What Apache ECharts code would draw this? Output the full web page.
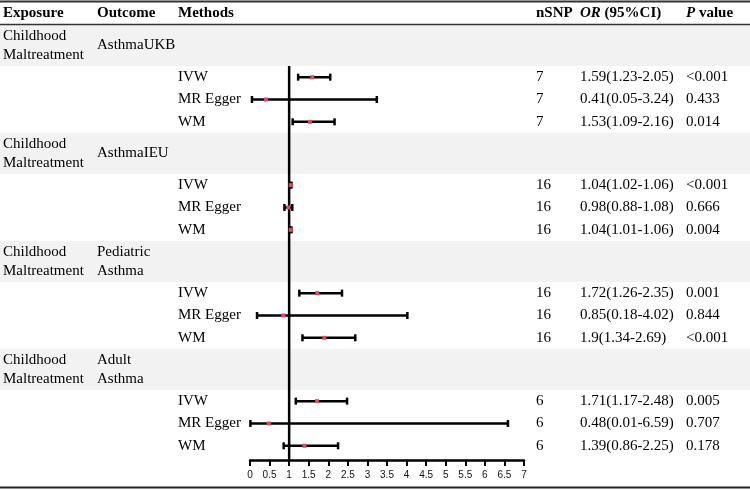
<!DOCTYPE html>
<html><head><meta charset="utf-8">
<script src="https://cdn.jsdelivr.net/npm/echarts@6/dist/echarts.min.js"></script>
<style>html,body{margin:0;padding:0;background:#fff}#c{width:750px;height:490px}</style>
</head><body><div id="c"></div>
<script>
// ---- data ----
const exposures = ['Childhood\nMaltreatment','Childhood\nMaltreatment','Childhood\nMaltreatment','Childhood\nMaltreatment'];
const outcomes = ['AsthmaUKB','AsthmaIEU','Pediatric\nAsthma','Adult\nAsthma'];
const methods = ['IVW','MR Egger','WM'];
const nsnp = [[7,7,7],[16,16,16],[16,16,16],[6,6,6]];
const orVal = [[1.59,0.41,1.53],[1.04,0.98,1.04],[1.72,0.85,1.9],[1.71,0.48,1.39]];
const ciLow = [[1.23,0.05,1.09],[1.02,0.88,1.01],[1.26,0.18,1.34],[1.17,0.01,0.86]];
const ciHigh = [[2.05,3.24,2.16],[1.06,1.08,1.06],[2.35,4.02,2.69],[2.48,6.59,2.25]];
const orText = [
  ['1.59(1.23-2.05)','0.41(0.05-3.24)','1.53(1.09-2.16)'],
  ['1.04(1.02-1.06)','0.98(0.88-1.08)','1.04(1.01-1.06)'],
  ['1.72(1.26-2.35)','0.85(0.18-4.02)','1.9(1.34-2.69)'],
  ['1.71(1.17-2.48)','0.48(0.01-6.59)','1.39(0.86-2.25)']];
const pText = [['<0.001','0.433','0.014'],['<0.001','0.666','0.004'],['0.001','0.844','<0.001'],['0.005','0.707','0.178']];
const headers = ['Exposure','Outcome','Methods','nSNP','{i|OR} (95%CI)','{i|P} value'];
const xTicks = {min:0, max:7, interval:0.5};

// ---- layout ----
const BAND = 41, ROW = 22.33, GROUP = BAND + 3*ROW;
const COLX = [3, 97, 178, 536, 580, 686];
const SERIF = 'Liberation Serif, Times New Roman, serif';
const FS = 15;
function rowY(g, r){ return g*GROUP + BAND + ROW*(r+0.5); }

const bandData = outcomes.map((o,g)=>[0, g*GROUP, g*GROUP+BAND, g]);
const rowData = [], ciData = [];
outcomes.forEach((o,g)=>{
  methods.forEach((m,r)=>{
    rowData.push([0, rowY(g,r), g, r]);
    ciData.push([ciLow[g][r], ciHigh[g][r], orVal[g][r], rowY(g,r)]);
  });
});

const chart = echarts.init(document.getElementById('c'), null, {renderer:'canvas'});
const txt = (x,y,text,extra)=>Object.assign({type:'text', x, y, style:Object.assign({text, fontFamily:SERIF, fontSize:FS, fill:'#000', align:'left', verticalAlign:'middle', lineHeight:19}, extra||{})});

chart.setOption({
  animation:false,
  backgroundColor:'#fff',
  grid:{left:250, width:274, top:25, height:435, containLabel:false, outerBoundsMode:'none'},
  xAxis:{type:'value', min:xTicks.min, max:xTicks.max, interval:xTicks.interval,
    axisLine:{show:true, onZero:false, lineStyle:{color:'#000', width:2.5}},
    axisTick:{show:true, inside:false, length:6, lineStyle:{color:'#000', width:2}},
    axisLabel:{color:'#111', fontSize:10, fontFamily:'Liberation Sans, Arial, sans-serif', margin:10},
    splitLine:{show:false}},
  yAxis:{type:'value', min:0, max:435, inverse:true, show:false},
  graphic:[
    {type:'line', shape:{x1:0,y1:1.5,x2:750,y2:1.5}, style:{stroke:'#333', lineWidth:2}, z:10},
    {type:'line', shape:{x1:0,y1:24.5,x2:750,y2:24.5}, style:{stroke:'#333', lineWidth:1.5}, z:10},
    {type:'line', shape:{x1:0,y1:487.5,x2:750,y2:487.5}, style:{stroke:'#222', lineWidth:2}, z:10},
    ...headers.map((h,i)=>({type:'text', x:COLX[i], y:13, z:10, style:{text:h, fontFamily:SERIF, fontSize:FS, fontWeight:'bold', fill:'#000', align:'left', verticalAlign:'middle',
      rich:{i:{fontFamily:SERIF, fontSize:FS, fontWeight:'bold', fontStyle:'italic', fill:'#000'}}}}))
  ],
  series:[
    {type:'custom', clip:false, z:1, data:bandData, encode:{x:0,y:[1,2]},
     renderItem(p, api){
       const a = api.coord([0, api.value(1)]), b = api.coord([0, api.value(2)]);
       const g = api.value(3);
       return {type:'group', children:[
         {type:'rect', shape:{x:0, y:a[1], width:750, height:b[1]-a[1]}, style:{fill:'#f2f2f2'}},
         txt(COLX[0], (a[1]+b[1])/2, exposures[g]),
         txt(COLX[1], (a[1]+b[1])/2, outcomes[g])
       ]};
     }},
    {type:'custom', clip:false, z:2, data:[[1, BAND, 435]], encode:{x:0,y:[1,2]},
     renderItem(p, api){
       const a = api.coord([api.value(0), api.value(1)]), b = api.coord([api.value(0), api.value(2)]);
       return {type:'line', shape:{x1:a[0],y1:a[1],x2:b[0],y2:b[1]}, style:{stroke:'#000', lineWidth:2.5}};
     }},
    {type:'custom', clip:false, z:3, data:ciData, encode:{x:[0,1,2], y:3},
     renderItem(p, api){
       const lo = api.coord([api.value(0), api.value(3)]);
       const hi = api.coord([api.value(1), api.value(3)]);
       const pt = api.coord([api.value(2), api.value(3)]);
       const y = lo[1], st = {stroke:'#000', lineWidth:2.5};
       return {type:'group', children:[
         {type:'line', shape:{x1:lo[0],y1:y,x2:hi[0],y2:y}, style:st},
         {type:'line', shape:{x1:lo[0],y1:y-3.5,x2:lo[0],y2:y+3.5}, style:st},
         {type:'line', shape:{x1:hi[0],y1:y-3.5,x2:hi[0],y2:y+3.5}, style:st},
         {type:'rect', shape:{x:pt[0]-2, y:y-2, width:4, height:4}, style:{fill:'#e34a5e'}}
       ]};
     }},
    {type:'custom', clip:false, z:4, data:rowData, encode:{x:0,y:1},
     renderItem(p, api){
       const y = api.coord([0, api.value(1)])[1];
       const g = api.value(2), r = api.value(3);
       return {type:'group', children:[
         txt(COLX[2], y, methods[r]),
         txt(COLX[3], y, String(nsnp[g][r])),
         txt(COLX[4], y, orText[g][r]),
         txt(COLX[5], y, pText[g][r])
       ]};
     }}
  ]
});
</script></body></html>
